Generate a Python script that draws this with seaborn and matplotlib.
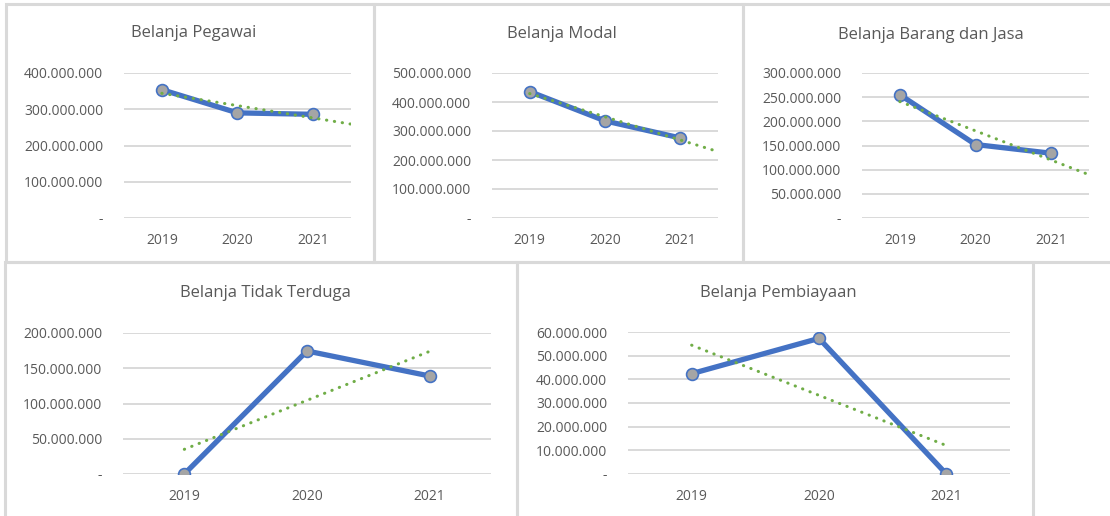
import matplotlib
matplotlib.use("Agg")
import matplotlib.pyplot as plt
from matplotlib.patches import Rectangle
import numpy as np
import seaborn as sns

# data
years = ["2019", "2020", "2021"]
pegawai = [354e6, 290e6, 286e6]
modal = [436e6, 335e6, 276e6]
barang_jasa = [255e6, 152e6, 134e6]
tidak_terduga = [0, 174.5e6, 139e6]
pembiayaan = [42.4e6, 57.3e6, 0]

titles = ["Belanja Pegawai", "Belanja Modal", "Belanja Barang dan Jasa",
          "Belanja Tidak Terduga", "Belanja Pembiayaan"]
series = [pegawai, modal, barang_jasa, tidak_terduga, pembiayaan]
ymax = [400e6, 500e6, 300e6, 200e6, 60e6]
ystep = [100e6, 100e6, 50e6, 50e6, 10e6]
forward = [0.5, 0.5, 0.5, 0, 0]  # trendline forecast maju

sns.set_theme(style="white")
plt.rcParams["font.family"] = ["Open Sans", "DejaVu Sans"]

W, H = 1110, 516
fig = plt.figure(figsize=(W / 100, H / 100), dpi=100)


def frac(x0, y0, x1, y1):
    return [x0 / W, 1 - y1 / H, (x1 - x0) / W, (y1 - y0) / H]


# kotak panel, area plot, posisi judul (pixel)
borders = [(6, 4, 374, 262), (374, 4, 743, 262), (743, 4, 1114, 262),
           (5, 262, 517, 520), (517, 262, 1033, 520)]
areas = [(124, 73, 351, 218), (492, 73, 718, 218), (862, 73, 1089, 218),
         (123, 333, 491, 474), (628, 332, 1010, 474)]
title_pos = [(194, 33), (562, 34), (931, 35), (265, 293), (778, 293)]

grey = "#595959"
blue = "#4472C4"


def fmt(v):
    if v == 0:
        return "-"
    return f"{v:,.0f}".replace(",", ".")


for i in range(5):
    b = borders[i]
    fig.add_artist(Rectangle((b[0] / W, 1 - b[3] / H), (b[2] - b[0]) / W, (b[3] - b[1]) / H,
                             transform=fig.transFigure, fill=False,
                             edgecolor="#D9D9D9", linewidth=2.2))
    ax = fig.add_axes(frac(*areas[i]))
    vals = series[i]

    sns.lineplot(x=years, y=vals, ax=ax, color=blue, linewidth=3.8, marker="o",
                 markersize=8.5, markerfacecolor="#A5A5A5", markeredgecolor=blue,
                 markeredgewidth=1.2, zorder=3)

    # trendline linear
    pos = np.arange(len(vals))
    k, c = np.polyfit(pos, vals, 1)
    tx = np.array([0, len(vals) - 1 + forward[i]])
    ax.plot(tx, k * tx + c, color="#70AD47", linewidth=2.2,
            linestyle=(0, (0.1, 2.5)), dash_capstyle="round", zorder=4)

    ax.set_xlim(-0.5, 2.5)
    ax.set_ylim(0, ymax[i])
    ticks = np.arange(0, ymax[i] + 1, ystep[i])
    ax.set_yticks(ticks)
    ax.set_yticklabels([fmt(t) for t in ticks])
    ax.grid(axis="y", color="#D9D9D9", linewidth=1.4)
    ax.set_axisbelow(True)
    for s in ax.spines.values():
        s.set_visible(False)
    ax.tick_params(axis="y", length=0, pad=15, labelsize=10, labelcolor=grey)
    ax.tick_params(axis="x", length=0, pad=11, labelsize=10, labelcolor=grey)
    ax.set_xlabel("")
    ax.set_ylabel("")

    tx_, ty_ = title_pos[i]
    fig.text(tx_ / W, 1 - ty_ / H, titles[i], ha="center", va="center",
             fontsize=12, color=grey)

plt.savefig("out.png", dpi=100)
